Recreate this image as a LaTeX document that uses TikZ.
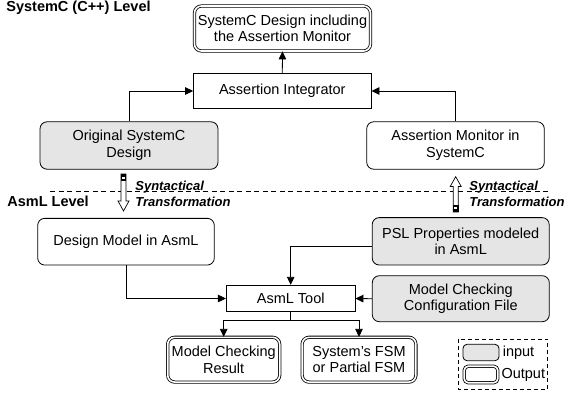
\documentclass[tikz,border=0pt]{standalone}
\usepackage{fontspec}
\setmainfont{Liberation Sans}
\usetikzlibrary{arrows.meta,positioning}
\newcommand\boxfont{\fontsize{14.5}{16.6}\selectfont}
\newcommand\synfont{\fontsize{13}{16}\selectfont\bfseries\itshape}
\tikzset{
  box/.style={draw,rounded corners=7pt,align=center,font=\boxfont,inner sep=0pt},
  inbox/.style={box,fill=black!10},
  outbox/.style={box,double,double distance=1.6pt},
  toolbox/.style={draw,align=center,font=\boxfont,inner sep=0pt},
  lvl/.style={font=\boxfont\bfseries,anchor=west,inner sep=0pt},
  syn/.style={font=\synfont,align=left,anchor=west,inner sep=0pt},
  ar/.style={-{Triangle[length=8pt,width=7.5pt]}},
}
\begin{document}
\begin{tikzpicture}[x=1pt,y=-1pt,line width=0.8pt]
\useasboundingbox (0,0) rectangle (565,393);
% SystemC level
\node[lvl] (sclvl) at (6,7.8) {SystemC (C++) Level};
\node[outbox,minimum width=176,minimum height=45] (top) at (282.5,28.5) {SystemC Design including\\the Assertion Monitor};
\node[toolbox,minimum width=177.5,minimum height=34.5] (integ) at (282.3,91) {Assertion Integrator};
\node[inbox,minimum width=178,minimum height=47.4] (orig) at (129,145.5) {Original SystemC\\Design};
\node[box,minimum width=177.6,minimum height=47.4] (mon) at (455.5,145.5) {Assertion Monitor in\\SystemC};
\draw[ar] (integ.north) -- (top.south);
\draw[ar] (orig.north) |- (integ.west);
\draw[ar] (mon.north) |- (integ.east);
% level border
\draw[dash pattern=on 5pt off 3.5pt] (50,191.3) -- (549.5,191.3);
\node[lvl] (asmlvl) at (7,201.7) {AsmL Level};
\node[syn] (synl) at (135,193.5) {Syntactical\\Transformation};
\node[syn] (synr) at (469,193.5) {Syntactical\\Transformation};
\begin{scope}[shift={(123.5,174)}]
\draw[fill=white,line width=0.7pt] (-2.5,0) -- (-2.5,27) -- (-5.5,27) -- (0,37) -- (5.5,27) -- (2.5,27) -- (2.5,0) -- cycle;
\fill (-2.9,0) rectangle (2.9,7); \fill[white] (-1.6,3) rectangle (1.6,4.6);
\end{scope}
\begin{scope}[shift={(455.7,212)},yscale=-1]
\draw[fill=white,line width=0.7pt] (-2.5,0) -- (-2.5,25.5) -- (-5.5,25.5) -- (0,35.3) -- (5.5,25.5) -- (2.5,25.5) -- (2.5,0) -- cycle;
\fill (-2.9,0) rectangle (2.9,7); \fill[white] (-1.6,3) rectangle (1.6,4.6);
\end{scope}
% AsmL level
\node[box,minimum width=176.6,minimum height=46.7] (dm) at (126,241.7) {Design Model in AsmL};
\node[inbox,minimum width=177,minimum height=47.4] (psl) at (460.7,241.3) {PSL Properties modeled\\in AsmL};
\node[toolbox,minimum width=128.7,minimum height=26.5] (tool) at (290.7,298.5) {AsmL Tool};
\node[inbox,minimum width=177,minimum height=46] (cfg) at (460.8,298.7) {Model Checking\\Configuration File};
\node[outbox,minimum width=112,minimum height=44.8] (res) at (223.7,359.7) {Model Checking\\Result};
\node[outbox,minimum width=113.8,minimum height=44.8] (fsm) at (359,359.7) {System's FSM\\or Partial FSM};
\draw[ar] (dm.south) |- (tool.west);
\draw[ar] ([yshift=-5pt]psl.west) -| (tool.north);
\draw[ar] (cfg.west) -- (tool.east);
\draw (tool.south) -- (tool.south|-0,320) coordinate (br);
\draw[ar] (br) -| (res.north);
\draw[ar] (br) -| (fsm.north);
% legend
\draw[dash pattern=on 4pt off 3pt] (458.4,339) rectangle (547.7,389.3);
\node[inbox,rounded corners=4pt,minimum width=36,minimum height=16.4] (inkey) at (481,352.5) {};
\node[outbox,rounded corners=4pt,minimum width=33.5,minimum height=16.5] (outkey) at (481,374.5) {};
\node[font=\boxfont,anchor=west,inner sep=0pt] (inlbl) at ([xshift=3pt]inkey.east) {input};
\node[font=\boxfont,anchor=west,inner sep=0pt] (outlbl) at ([xshift=3pt]outkey.east) {Output};
\end{tikzpicture}
\end{document}
